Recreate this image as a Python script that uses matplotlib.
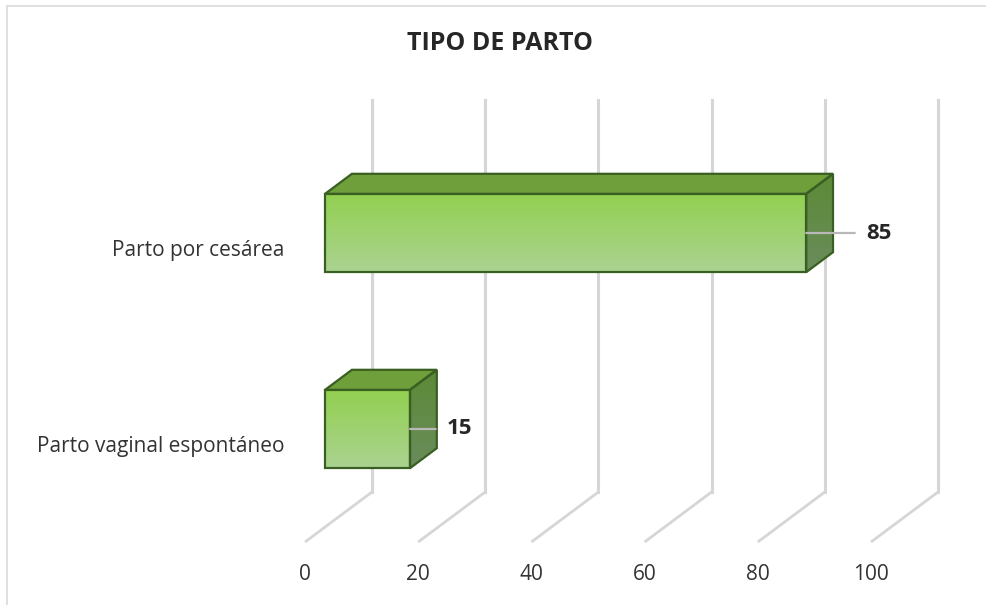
import numpy as np
import matplotlib
matplotlib.use("Agg")
import matplotlib.pyplot as plt
from matplotlib.patches import Polygon, Rectangle
from matplotlib.colors import LinearSegmentedColormap

plt.rcParams['font.family'] = ['Open Sans', 'DejaVu Sans']

# data
categories = ['Parto vaginal espontáneo', 'Parto por cesárea']
values = [15, 85]
ticks = [0, 20, 40, 60, 80, 100]

# label placement beside each bar (points)
label_gap = [26.5, 43]

W, H = 987, 605
fig = plt.figure(figsize=(W / 100, H / 100), dpi=100)
ax = fig.add_axes([305 / W, (H - 542) / H, 566 / W, 392 / H])
ax.set_xlim(0, 100)
ax.set_ylim(-0.5, 1.5)

# depth of the 3D box expressed in data units
DX = 67 / 5.66
DY = 50 / 196
d_front, d_back = 0.3, 0.7
half = 0.2

grid_c = '#d6d6d6'
for v in ticks:
    ax.plot([v, v + DX], [-0.5, -0.5 + DY], color=grid_c, lw=2, zorder=1,
            solid_capstyle='butt', clip_on=False)
    ax.plot([v + DX, v + DX], [-0.5 + DY, 1.5 + DY], color=grid_c, lw=2.2,
            zorder=1, clip_on=False)

front_cm = LinearSegmentedColormap.from_list('front', ['#92d050', '#abd391'])
side_cm = LinearSegmentedColormap.from_list('side', ['#5b8a36', '#6b8c5c'])
grad = np.linspace(0, 1, 256).reshape(-1, 1)
edge = '#3a5f22'

for i, (v, gap) in enumerate(zip(values, label_gap)):
    ox0, oy0 = d_front * DX, d_front * DY
    ox1, oy1 = d_back * DX, d_back * DY
    lo, hi = i - half, i + half

    # front face
    ax.imshow(grad, cmap=front_cm, aspect='auto', origin='upper',
              extent=(ox0, ox0 + v, lo + oy0, hi + oy0), zorder=3,
              interpolation='bilinear')
    ax.add_patch(Rectangle((ox0, lo + oy0), v, 2 * half, fill=False,
                           ec=edge, lw=1.6, zorder=4, clip_on=False))

    # top face
    top = Polygon([(ox0, hi + oy0), (ox0 + v, hi + oy0),
                   (ox1 + v, hi + oy1), (ox1, hi + oy1)],
                  closed=True, fc='#6e9f3b', ec=edge, lw=1.6, zorder=4,
                  clip_on=False)
    ax.add_patch(top)

    # right face, gradient clipped to the parallelogram
    side = Polygon([(ox0 + v, lo + oy0), (ox0 + v, hi + oy0),
                    (ox1 + v, hi + oy1), (ox1 + v, lo + oy1)],
                   closed=True, fc='none', ec=edge, lw=1.6, zorder=4,
                   clip_on=False)
    ax.add_patch(side)
    im = ax.imshow(grad, cmap=side_cm, aspect='auto', origin='upper',
                   extent=(ox0 + v, ox1 + v, lo + oy0, hi + oy1), zorder=3,
                   interpolation='bilinear')
    im.set_clip_path(side)

    ax.annotate(f'{v}', xy=(ox0 + v, i + oy0), xytext=(gap, 0),
                textcoords='offset points', ha='left', va='center',
                fontsize=16, fontweight='bold', color='#262626',
                arrowprops=dict(arrowstyle='-', color='#b8b8b8', lw=1.6,
                                shrinkA=6, shrinkB=0),
                zorder=5, annotation_clip=False)

ax.set_xlim(0, 100)
ax.set_ylim(-0.5, 1.5)
ax.set_xticks(ticks)
ax.set_xticklabels([str(t) for t in ticks], fontsize=15, color='#333333')
ax.set_yticks([0, 1])
ax.set_yticklabels(categories, fontsize=15, color='#333333')
ax.tick_params(axis='x', length=0, pad=16)
ax.tick_params(axis='y', length=0, pad=15)
for s in ax.spines.values():
    s.set_visible(False)
ax.patch.set_visible(False)

fig.text(500 / W, 1 - 44 / H, 'TIPO DE PARTO', ha='center', va='center',
         fontsize=18, fontweight='bold', color='#262626')

# chart frame
fig.patches.append(Rectangle((7.5 / W, -0.1), 1.2, 1 - 6 / H + 0.1,
                             transform=fig.transFigure, fill=False,
                             ec='#d9d9d9', lw=1.2))

fig.savefig('out.png', dpi=100)
